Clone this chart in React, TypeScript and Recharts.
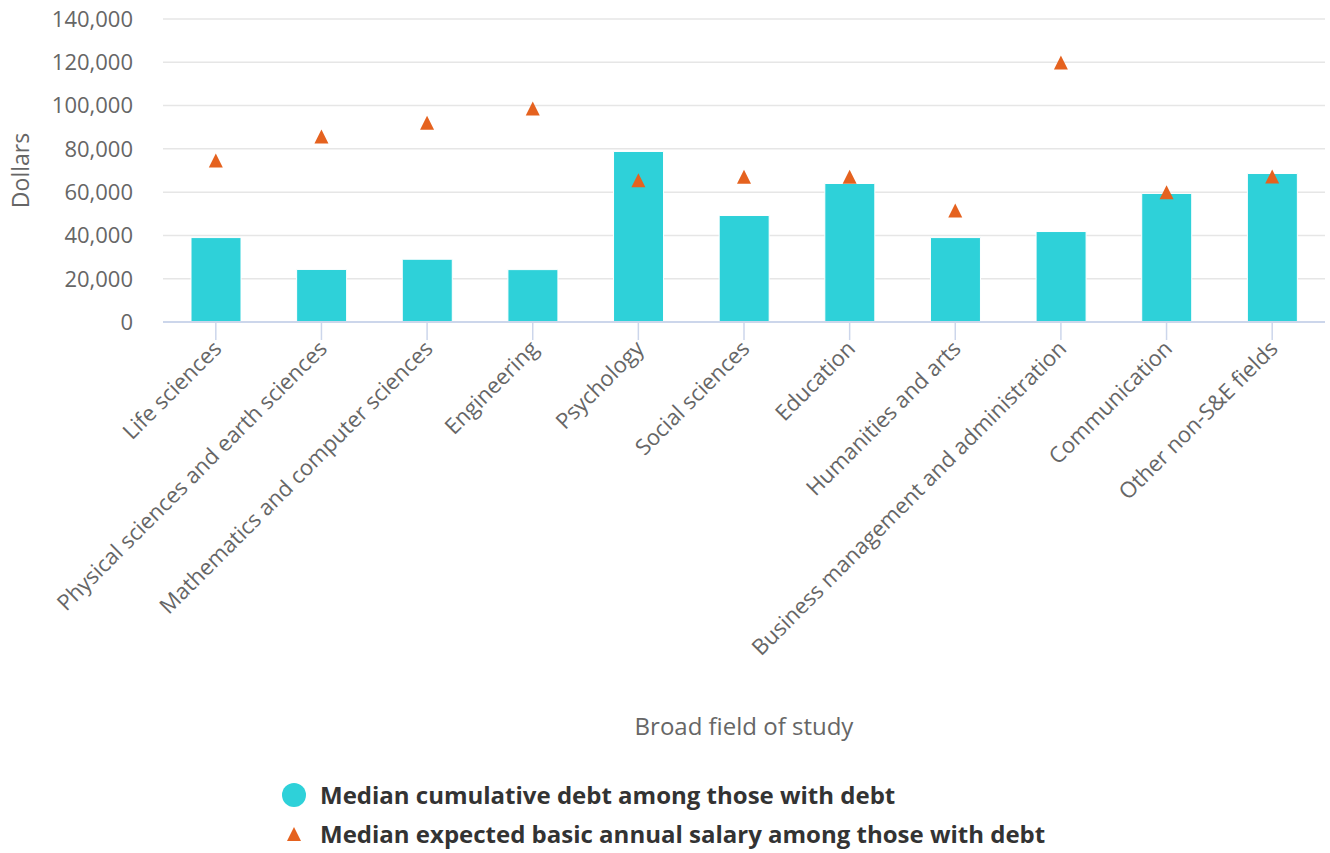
import React from "react";
import { ComposedChart, Bar, Scatter, XAxis, YAxis, CartesianGrid, Legend } from "recharts";

const fields: string[] = [
  "Life sciences",
  "Physical sciences and earth sciences",
  "Mathematics and computer sciences",
  "Engineering",
  "Psychology",
  "Social sciences",
  "Education",
  "Humanities and arts",
  "Business management and administration",
  "Communication",
  "Other non-S&E fields",
];
const debt: number[] = [39000, 24300, 29000, 24200, 78800, 49200, 64000, 39000, 41800, 59400, 68600];
const salary: number[] = [74600, 85700, 92100, 98700, 65500, 67100, 67100, 51500, 119900, 59900, 67200];
const yTicks: number[] = [0, 20000, 40000, 60000, 80000, 100000, 120000, 140000];

const debtName = "Median cumulative debt among those with debt";
const salaryName = "Median expected basic annual salary among those with debt";

const FONT = '"Open Sans", sans-serif';
const BAR_COLOR = "#2ed1d9";
const TRI_COLOR = "#e5621f";

const data = fields.map((field, i) => ({ field, debt: debt[i], salary: salary[i] }));

const FieldTick = (props: any) => {
  const { x, y, payload } = props;
  return (
    <g transform={`translate(${x + 7},${y + 6})`}>
      <text x={0} y={0} textAnchor="end" transform="rotate(-45)" fill="#666" fontSize={22} fontFamily={FONT}>
        {payload.value}
      </text>
    </g>
  );
};

const Triangle = (props: any) => {
  const { cx, cy } = props;
  const r = 7;
  return <polygon points={`${cx},${cy - r} ${cx + r},${cy + r} ${cx - r},${cy + r}`} fill={TRI_COLOR} />;
};

const LegendBox = () => (
  <div style={{ paddingTop: 18, paddingLeft: 281, fontFamily: FONT, fontWeight: 700, fontSize: 24, color: "#333" }}>
    <div style={{ height: 39, display: "flex", alignItems: "center" }}>
      <svg width={26} height={26} style={{ marginRight: 13 }}>
        <circle cx={13} cy={13} r={12} fill={BAR_COLOR} />
      </svg>
      <span>{debtName}</span>
    </div>
    <div style={{ height: 39, display: "flex", alignItems: "center" }}>
      <svg width={26} height={26} style={{ marginRight: 13 }}>
        <polygon points="13,6 20,20 6,20" fill={TRI_COLOR} />
      </svg>
      <span>{salaryName}</span>
    </div>
  </div>
);

const App: React.FC = () => {
  return (
    <div style={{ position: "absolute", left: 0, top: 0, width: 1330, height: 853, background: "#fff" }}>
      <ComposedChart
        width={1330}
        height={853}
        data={data}
        margin={{ top: 19, right: 5, left: 0, bottom: 0 }}
        barCategoryGap="26%"
      >
        <CartesianGrid vertical={false} stroke="#e6e6e6" strokeWidth={1.5} />
        <XAxis
          dataKey="field"
          interval={0}
          height={435}
          tick={<FieldTick />}
          tickSize={18}
          tickMargin={4}
          axisLine={{ stroke: "#ccd6eb", strokeWidth: 2 }}
          tickLine={{ stroke: "#ccd6eb", strokeWidth: 1.5 }}
          label={{ value: "Broad field of study", position: "insideBottom", offset: 22, fill: "#666", fontSize: 24, fontFamily: FONT }}
        />
        <YAxis
          width={163}
          domain={[0, 140000]}
          ticks={yTicks}
          tickFormatter={(v: number) => v.toLocaleString("en-US")}
          axisLine={false}
          tickLine={false}
          tickSize={0}
          tickMargin={30}
          tick={{ fill: "#666", fontSize: 22, fontFamily: FONT }}
          label={({ viewBox }: any) => {
            const cy = viewBox.y + viewBox.height / 2;
            return (
              <text x={20} y={cy} transform={`rotate(-90, 20, ${cy})`} textAnchor="middle" dominantBaseline="central" fill="#666" fontSize={23} fontFamily={FONT}>
                Dollars
              </text>
            );
          }}
        />
        <Bar dataKey="debt" name={debtName} fill={BAR_COLOR} stroke="#fff" strokeWidth={1} barSize={50} isAnimationActive={false} />
        <Scatter dataKey="salary" name={salaryName} shape={<Triangle />} isAnimationActive={false} />
        <Legend verticalAlign="bottom" content={<LegendBox />} wrapperStyle={{ left: 0, width: 1330 }} />
      </ComposedChart>
    </div>
  );
};

export default App;
